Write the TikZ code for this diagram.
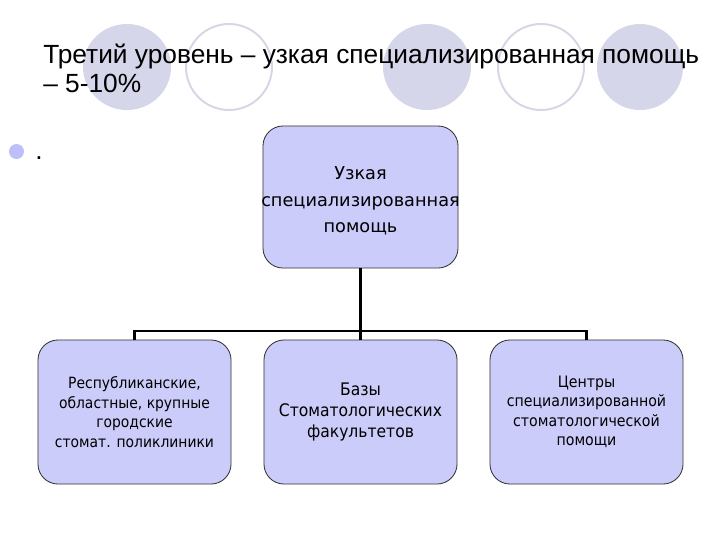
\documentclass[tikz,border=0pt]{standalone}
\usepackage{fontspec}
\setmainfont{Liberation Sans}
\newfontfamily\boxfont{DejaVu Sans}
\newfontfamily\condfont{DejaVu Sans Condensed}
\definecolor{boxfill}{RGB}{204,204,250}
\definecolor{circfill}{RGB}{214,214,234}
\definecolor{circline}{RGB}{214,214,230}
\definecolor{bulletc}{RGB}{190,190,250}
\tikzset{
  orgbox/.style={draw=black!80, line width=0.6pt, fill=boxfill, rounded corners=0.5cm,
    align=center, inner sep=2pt},
  topbox/.style={orgbox, minimum width=4.875cm, minimum height=3.55cm},
  lowbox/.style={orgbox, minimum width=4.825cm, minimum height=3.6cm},
  link/.style={draw=black, line width=1.5pt}
}
\begin{document}
\begin{tikzpicture}[x=0.025cm, y=-0.025cm]
\useasboundingbox (0,0) rectangle (720,540);
% decorative circles
\fill[circfill] (127,67) ellipse (44 and 43);
\draw[circline, line width=1.4pt] (229,67) ellipse (43 and 43);
\fill[circfill] (427,67) ellipse (44 and 43);
\draw[circline, line width=1.4pt] (541,67) ellipse (43 and 43);
\fill[circfill] (640,67) ellipse (43 and 43);
% title
\node[anchor=base west, inner sep=0pt, align=left, font=\fontsize{18.7}{20.6}\selectfont] (title) at (43,92)
  {Третий уровень – узкая специализированная помощь\\– 5-10\%};
% bullet
\fill[bulletc] (16.5,151.5) circle (7.5);
\node[anchor=base west, inner sep=0pt, font=\fontsize{18.7}{20.6}\selectfont] (dot) at (35,159) {.};
% boxes
\node[topbox] (top) at (360.5,197) {};
\node[align=center, inner sep=0pt, font=\boxfont\fontsize{12.6}{19}\selectfont] (toptext) at (360.5,201)
  {Узкая\\специализированная\\помощь};
\node[lowbox, font=\condfont\fontsize{11}{13.8}\selectfont] (b1) at (134.5,412)
  {Республиканские,\\областные, крупные\\городские\\стомат. поликлиники};
\node[lowbox, font=\condfont\fontsize{12.3}{15}\selectfont] (b2) at (360.5,412)
  {Базы\\Стоматологических\\факультетов};
\node[lowbox, font=\condfont\fontsize{11.2}{13.8}\selectfont] (b3) at (586.5,412)
  {Центры\\специализированной\\стоматологической\\помощи};
% connectors
\coordinate (j) at (top.south |- 0,331);
\draw[link] (top.south) -- (j);
\draw[link] (b1.north) -- ++(0,-9) -| (b3.north);
\draw[link] (j) -- (b2.north);
\end{tikzpicture}
\end{document}
